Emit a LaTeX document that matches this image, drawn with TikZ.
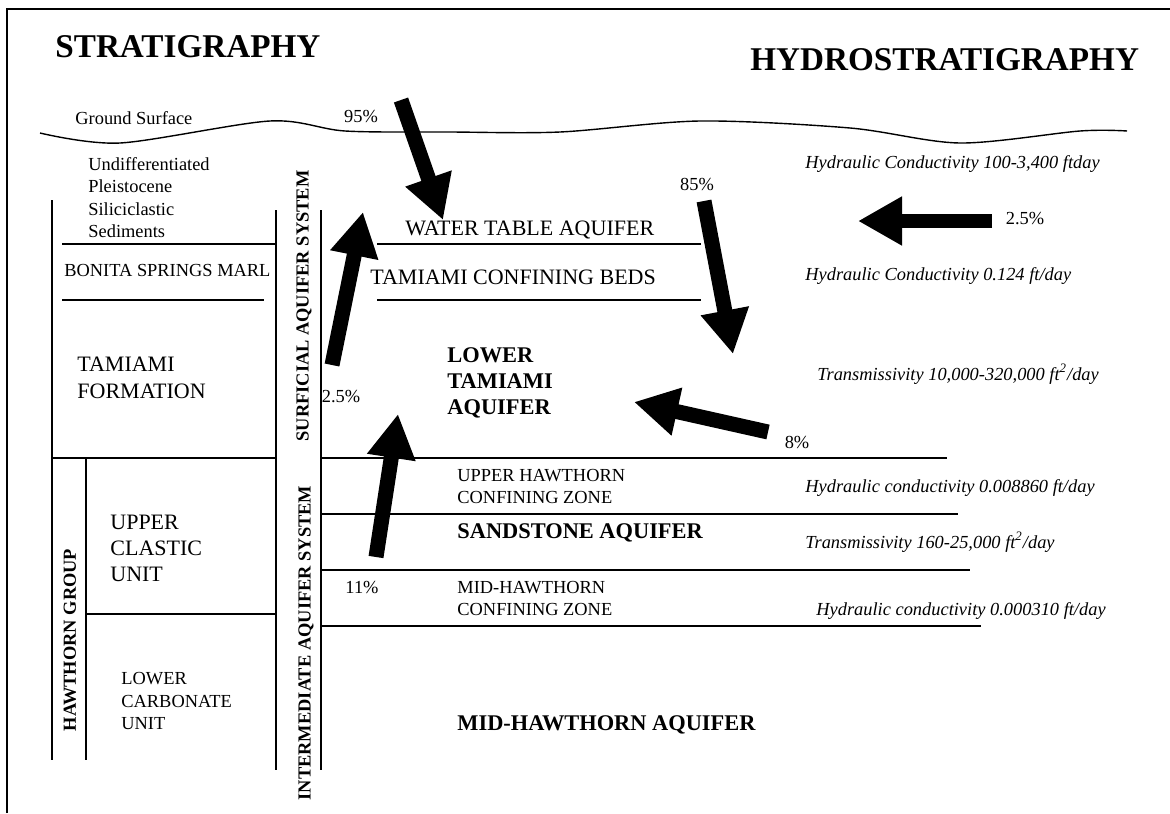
\documentclass[tikz,border=0pt]{standalone}
\usepackage{fontspec}
\setmainfont{Liberation Serif}
\usetikzlibrary{arrows.meta}

\begin{document}
\begin{tikzpicture}[x=0.5pt,y=-0.5pt,
        rule/.style={line width=0.7pt},
        txt/.style={inner sep=0pt,anchor=west,align=left,font=\fontsize{9.2}{11.25}\selectfont},
        bigtxt/.style={txt,font=\fontsize{11}{13.5}\selectfont},
        boldtxt/.style={txt,font=\bfseries\fontsize{11.2}{13}\selectfont},
        sidetxt/.style={inner sep=0pt,rotate=90,font=\bfseries\fontsize{9.2}{11}\selectfont},
        prop/.style={inner sep=0pt,anchor=base west,font=\itshape\fontsize{9.2}{11}\selectfont},
        pct/.style={inner sep=0pt,font=\fontsize{9.2}{11}\selectfont},
        title/.style={inner sep=0pt,anchor=west,font=\bfseries\fontsize{16.6}{20}\selectfont},
        flowarrow/.style={line width=7.5pt,-{Triangle[length=22pt,width=23pt]}}]
        \useasboundingbox (0,0) rectangle (1170,813);
        % frame
        \draw[line width=1pt] (7,813) -- (7,9) -- (1170,9);
        \node[title] (strat) at (55,47) {STRATIGRAPHY};
        \node[title] (hydro) at (750,60) {HYDROSTRATIGRAPHY};
        % ground surface
        \draw[rule] plot[smooth] coordinates {(40,133) (120,143) (270,121) (345,131) (450,132)
            (560,132) (700,121) (850,128) (960,143) (1080,131) (1127,131)};
        \node[txt] (ground) at (75,118) {Ground Surface};
        % stratigraphy column
        \draw[rule] (52,200) -- (52,760);
        \draw[rule] (276,210) -- (276,770);
        \draw[rule] (62,244) -- (276,244);
        \draw[rule] (62,300) -- (264,300);
        \draw[rule] (52,458) -- (276,458);
        \draw[rule] (86,458) -- (86,760);
        \draw[rule] (86,614) -- (276,614);
        \draw[rule] (321,210) -- (321,770);
        \node[txt,anchor=north west] (undiff) at (88,157)
            {Undifferentiated\\Pleistocene\\Siliciclastic\\Sediments};
        \node[txt] (bonita) at (64,270) {BONITA SPRINGS MARL};
        \node[bigtxt,anchor=north west] (tamform) at (77,357) {TAMIAMI\\FORMATION};
        \node[bigtxt,anchor=north west,font=\fontsize{11}{13}\selectfont] (clastic) at (110,515)
            {UPPER\\CLASTIC\\UNIT};
        \node[txt,anchor=north west] (carb) at (121,672) {LOWER\\CARBONATE\\UNIT};
        \node[sidetxt] (hgroup) at (70,640) {HAWTHORN GROUP};
        \node[sidetxt] (sas) at (304,306) {SURFICIAL AQUIFER SYSTEM};
        \node[sidetxt] (ias) at (306,643) {INTERMEDIATE AQUIFER SYSTEM};
        % hydrostratigraphy
        \draw[rule] (377,244) -- (701,244);
        \draw[rule] (377,300) -- (701,300);
        \foreach \y/\xe in {458/947, 514/958, 570/970, 626/981}
            \draw[rule] (321,\y) -- (\xe,\y);
        \node[bigtxt] (wta) at (405,230) {WATER TABLE AQUIFER};
        \node[bigtxt] (tcb) at (370,277) {TAMIAMI CONFINING BEDS};
        \node[boldtxt,anchor=north west] (lta) at (447,347) {LOWER\\TAMIAMI\\AQUIFER};
        \node[txt,anchor=north west,font=\fontsize{9.2}{11}\selectfont] (uhcz) at (457,469)
            {UPPER HAWTHORN\\CONFINING ZONE};
        \node[boldtxt] (ssa) at (457,533) {SANDSTONE AQUIFER};
        \node[txt,anchor=north west,font=\fontsize{9.2}{11}\selectfont] (mhcz) at (457,581)
            {MID-HAWTHORN\\CONFINING ZONE};
        \node[boldtxt] (mha) at (457,725) {MID-HAWTHORN AQUIFER};
        % properties
        \node[prop] (k1) at (805,168) {Hydraulic Conductivity 100-3,400 ftday};
        \node[prop] (k2) at (805,280) {Hydraulic Conductivity 0.124 ft/day};
        \node[prop] (t1) at (817,380) {Transmissivity 10,000-320,000 ft\textsuperscript{2}/day};
        \node[prop] (k3) at (805,492) {Hydraulic conductivity 0.008860 ft/day};
        \node[prop] (t2) at (805,548) {Transmissivity 160-25,000 ft\textsuperscript{2}/day};
        \node[prop] (k4) at (816,615) {Hydraulic conductivity 0.000310 ft/day};
        % flows
        \node[pct] (p95) at (361,117) {95\%};
        \node[pct] (p85) at (697,185) {85\%};
        \node[pct] (p25r) at (1025,219) {2.5\%};
        \node[pct] (p8) at (797,442) {8\%};
        \node[pct] (p25l) at (341,397) {2.5\%};
        \node[pct] (p11) at (362,587) {11\%};
        \coordinate (rainS) at (401,100);  \coordinate (rainE) at (443,220);
        \coordinate (upS) at (332,365);    \coordinate (upE) at (363,212);
        \coordinate (downS) at (704,201);  \coordinate (downE) at (733,354);
        \coordinate (latS) at (992,221);   \coordinate (latE) at (858,221);
        \coordinate (eightS) at (768,432); \coordinate (eightE) at (634,402);
        \coordinate (elevS) at (376,557);  \coordinate (elevE) at (398,414);
        \foreach \s/\e in {rainS/rainE, upS/upE, downS/downE, eightS/eightE, elevS/elevE}
            \draw[flowarrow] (\s) -- (\e);
        \draw[flowarrow,line width=7pt] (latS) -- (latE);
    \end{tikzpicture}
\end{document}
